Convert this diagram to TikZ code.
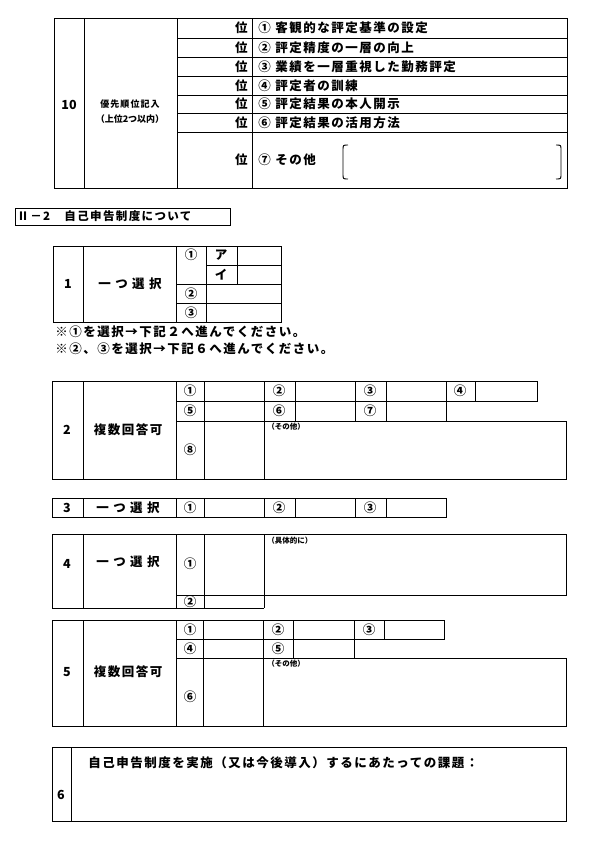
\documentclass[tikz,border=0pt]{standalone}
\usepackage{fontspec}
\setmainfont{Noto Sans CJK JP}
\newfontfamily\spc[LetterSpace=12]{Noto Sans CJK JP}
\begin{document}
\begin{tikzpicture}[x=1pt,y=-1pt,line width=0.8pt,
  t/.style={inner sep=0pt,font=\spc\bfseries\fontsize{12.5}{13}\selectfont},
  tn/.style={inner sep=0pt,font=\bfseries\fontsize{12.5}{13}\selectfont},
  ts/.style={inner sep=0pt,font=\bfseries\fontsize{7.5}{8}\selectfont}]
\useasboundingbox (0,0) rectangle (600,854);
% ---- table 10
\draw (54,18) rectangle (567,188);
\draw (84,18)--(84,188) (177,18)--(177,188) (252,18)--(252,188);
\foreach \y in {38,57,76,95,113,132} \draw (177,\y)--(567,\y);
\node[tn] (n10) at (69,105) {10};
\node[t,font=\spc\bfseries\fontsize{9}{10}\selectfont] (l10a) at (130,104) {優先順位記入};
\node[t,font=\bfseries\fontsize{9}{10}\selectfont] (l10b) at (130,119) {（上位2つ以内）};
\foreach \y/\txt [count=\i] in {28/{① 客観的な評定基準の設定},47.5/{② 評定精度の一層の向上},66.5/{③ 業績を一層重視した勤務評定},85.5/{④ 評定者の訓練},104/{⑤ 評定結果の本人開示},122.5/{⑥ 評定結果の活用方法},160/{⑦ その他}}{
  \node[t,anchor=east] (i\i) at (248,\y) {位};
  \node[t,anchor=west] (o\i) at (258,\y) {\txt};}
\draw[line width=0.9pt] (348,145) .. controls (343,145) .. (343,150) -- (343,174) .. controls (343,179) .. (348,179);
\draw[line width=0.9pt] (556,145) .. controls (561,145) .. (561,150) -- (561,174) .. controls (561,179) .. (556,179);
% ---- heading
\draw (15,208) rectangle (230,225);
\node[inner sep=0pt,anchor=west,font=\spc\bfseries\fontsize{11.5}{12}\selectfont] (hd) at (17,216.5) {Ⅱ－2　自己申告制度について};
% ---- table 1
\draw (53,246) rectangle (281,322);
\draw (83,246)--(83,322) (176,246)--(176,322) (206,246)--(206,322) (237,246)--(237,284);
\draw (206,265)--(281,265) (176,284)--(281,284) (176,303)--(281,303);
\node[tn] (n1) at (68,284) {1};
\node[t] (c1) at (130,284) {一 つ 選 択};
\node[tn] (a1) at (191,255) {①};
\node[tn] (a2) at (191,293.5) {②};
\node[tn] (a3) at (191,312.5) {③};
\node[tn] (ka) at (221,255.5) {ア};
\node[tn] (ki) at (221,274.5) {イ};
\node[t,anchor=west] (nt1) at (55,332) {※①を選択→下記２へ進んでください。};
\node[t,anchor=west] (nt2) at (55,349) {※②、③を選択→下記６へ進んでください。};
% ---- table 2
\draw (52,381)--(537,381)--(537,401)--(176,401);
\draw (176,421)--(566,421)--(566,479)--(52,479)--(52,381);
\draw (83,381)--(83,479) (176,381)--(176,479) (204,381)--(204,479) (264,381)--(264,479);
\draw (295,381)--(295,421) (355,381)--(355,421) (386,381)--(386,421) (446,381)--(446,421) (475,381)--(475,401);
\node[tn] (n2) at (67,430) {2};
\node[t] (c2) at (128,430) {複数回答可};
\foreach \x/\yy/\s [count=\i] in {190/391/①,279/391/②,370/391/③,460/391/④,190/411/⑤,279/411/⑥,370/411/⑦,190/450/⑧}
  \node[tn] (b\i) at (\x,\yy) {\s};
\node[ts,anchor=west] (s2) at (267,427) {（その他）};
% ---- table 3
\draw (52,498) rectangle (446,517);
\foreach \x in {83,176,204,264,295,355,386} \draw (\x,498)--(\x,517);
\node[tn] (n3) at (67,507.5) {3};
\node[t] (c3) at (128,507.5) {一 つ 選 択};
\node[tn] (d1) at (190,507.5) {①};
\node[tn] (d2) at (279,507.5) {②};
\node[tn] (d3) at (370,507.5) {③};
% ---- table 4
\draw (52,534)--(566,534)--(566,595)--(176,595);
\draw (52,534)--(52,608)--(264,608);
\foreach \x in {83,176,204,264} \draw (\x,534)--(\x,608);
\node[tn] (n4) at (67,564) {4};
\node[t] (c4) at (128,562) {一 つ 選 択};
\node[tn] (e1) at (190,564) {①};
\node[tn] (e2) at (190,601.5) {②};
\node[ts,anchor=west] (s4) at (267,541) {（具体的に）};
% ---- table 5
\draw (52,620)--(444,620)--(444,639)--(176,639);
\draw (176,658)--(566,658)--(566,726)--(52,726)--(52,620);
\foreach \x in {83,176,203,263} \draw (\x,620)--(\x,726);
\draw (293,620)--(293,658) (354,620)--(354,658) (384,620)--(384,639);
\node[tn] (n5) at (67,672) {5};
\node[t] (c5) at (128,672) {複数回答可};
\foreach \x/\yy/\s [count=\i] in {190/629.5/①,278/629.5/②,369/629.5/③,190/648.5/④,278/648.5/⑤,190/697/⑥}
  \node[tn] (f\i) at (\x,\yy) {\s};
\node[ts,anchor=west] (s5) at (267,664) {（その他）};
% ---- table 6
\draw (52,747) rectangle (566,821);
\draw (71.5,747)--(71.5,821);
\node[tn] (n6) at (61,795) {6};
\node[t,anchor=west] (c6) at (88,763) {自己申告制度を実施（又は今後導入）するにあたっての課題：};
\end{tikzpicture}
\end{document}
